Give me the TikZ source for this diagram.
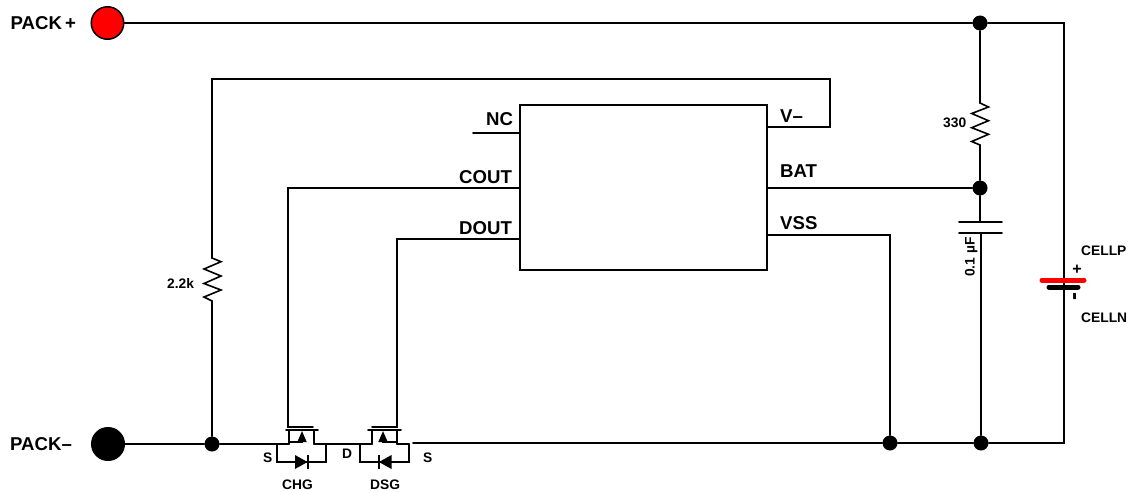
\documentclass[tikz,border=0pt]{standalone}
\usepackage{fontspec}
\setmainfont{Liberation Sans}
\usetikzlibrary{arrows.meta}
\tikzset{
  wire/.style={draw=black,line width=1.6pt,line cap=round,line join=miter},
  dotnode/.style={circle,fill=black,inner sep=0pt,minimum size=15pt},
  big/.style={anchor=base west,inner sep=0pt,font=\fontsize{18.6}{20}\selectfont\bfseries,text=black},
  small/.style={anchor=base west,inner sep=0pt,font=\fontsize{13.8}{16}\selectfont\bfseries,text=black},
  terminal/.style={circle,draw=black,line width=1.5pt,inner sep=0pt,minimum size=32.5pt},
}
\begin{document}
\begin{tikzpicture}[x=1pt,y=-1pt]
\useasboundingbox (0,0) rectangle (1129,492);
% terminals and junctions
\node[terminal,fill=red]   (packp) at (107.5,23) {};
\node[terminal,fill=black] (packn) at (108,444) {};
\node[dotnode] (jtop) at (980,23) {};
\node[dotnode] (jbat) at (980,188) {};
\node[dotnode] (jcap) at (981,443) {};
\node[dotnode] (jvss) at (890,443) {};
\node[dotnode] (jres) at (212,444) {};
% IC
\node[draw=black,line width=1.6pt,minimum width=247pt,minimum height=165pt,inner sep=0pt] (ic) at (643.5,187.5) {};
% labels
\node[big] (lpp) at (10.5,29.5) {PACK\kern3pt+};
\node[big] (lpn) at (10,450) {PACK–};
\node[big] (lnc) at (486,125.5) {NC};
\node[big] (lco) at (459,183) {COUT};
\node[big] (ldo) at (459,234.5) {DOUT};
\node[big] (lvm) at (780,122) {V–};
\node[big] (lbt) at (780,177.5) {BAT};
\node[big] (lvs) at (780,229.5) {VSS};
\node[small] (l330) at (943,128) {330};
\node[small] (l22) at (167,288) {2.2k};
\node[small] (ls1) at (263,462) {S};
\node[small] (ld)  at (342,458) {D};
\node[small] (ls2) at (423,462) {S};
\node[small] (lchg) at (282,489) {CHG};
\node[small] (ldsg) at (370,489) {DSG};
\node[small] (lcp) at (1081,255.5) {CELLP};
\node[small] (lcn) at (1081,322.5) {CELLN};
\node[small,rotate=90] (lcap) at (974.5,277) {0.1 µF};
\node[anchor=center,inner sep=0pt,font=\fontsize{16}{16}\selectfont\bfseries] (lplus) at (1077,270) {+};
\node[anchor=center,inner sep=0pt,rotate=90,font=\fontsize{24}{24}\selectfont\bfseries] (lminus) at (1077,296.5) {-};
% top rail
\coordinate (corner1) at (1064,23);
\coordinate (corner2) at (1064,443);
\coordinate (batT) at (1064,262);
\coordinate (batB) at (1064,304);
\draw[wire] (packp) -- (jtop) -- (corner1) -- (batT);
\draw[wire] (batB) -- (corner2) -- (jcap);
\draw[line width=2.2pt,black] (batT) -- (batB);
% battery plates
\coordinate (rl) at (1042,280); \coordinate (rr) at (1084,280);
\coordinate (bl) at (1049,287); \coordinate (br) at (1078,287);
\draw[line width=5pt,red,line cap=round] (rl) -- (rr);
\draw[line width=5pt,black,line cap=round] (bl) -- (br);
% 330 resistor and cap
\coordinate (r1t) at (980,103);
\coordinate (r1b) at (980,145);
\draw[wire] (jtop) -- (r1t) -- (988.5,107) -- (971.7,113.5) -- (988.5,120.7) -- (971.7,127.7) -- (988.5,134.3) -- (971.7,141.5) -- (r1b) -- (jbat);
\coordinate (c1) at (980,222);
\coordinate (c2) at (981,233);
\coordinate (p1l) at (959,222); \coordinate (p1r) at (1002,222);
\coordinate (p2l) at (959,233); \coordinate (p2r) at (1002,233);
\draw[wire] (jbat) -- (c1);
\draw[wire] (p1l) -- (p1r);
\draw[wire] (p2l) -- (p2r);
\draw[wire] (c2) -- (jcap);
% IC pins
\coordinate (ncend) at (473,133);
\draw[wire] (ncend) -- (ncend -| ic.west);
\coordinate (vm0) at (ic.east |- 0,127);
\coordinate (vm1) at (830,127);
\coordinate (vm2) at (830,79);
\coordinate (vm3) at (212,79);
\coordinate (r2t) at (212,258);
\coordinate (r2b) at (212,301);
\draw[wire] (vm0) -- (vm1) -- (vm2) -- (vm3) -- (r2t) -- (221,261.7) -- (204,269) -- (221,276) -- (204,283.5) -- (221,290) -- (204,297) -- (r2b) -- (jres);
\draw[wire] (ic.east |- jbat) -- (jbat);
\coordinate (vs0) at (ic.east |- 0,235);
\coordinate (vs1) at (890,235);
\draw[wire] (vs0) -- (vs1) -- (jvss);
% bottom rail
\coordinate (s1) at (289,444);
\coordinate (d1) at (314,444);
\coordinate (d2) at (372,444);
\coordinate (s2) at (397,444);
\coordinate (s2end) at (409,444);
\coordinate (s3) at (413,443);
\draw[wire] (packn) -- (jres) -- (s1);
\draw[wire] (d1) -- (d2);
\draw[wire] (s2) -- (s2end);
\draw[wire] (s3) -- (jvss) -- (jcap);
% MOSFET CHG
\coordinate (g1a) at (288,188);
\coordinate (g1b) at (288,427);
\coordinate (g1c) at (313,427);
\coordinate (ch1l) at (286,430); \coordinate (ch1r) at (318,430);
\draw[wire] (ic.west |- g1a) -- (g1a) -- (g1b) -- (g1c);
\draw[wire] (ch1l) -- (ch1r);
\draw[wire] (s1) -- (s1 |- ch1l);
\draw[wire] (d1) -- (d1 |- ch1l);
\coordinate (a1) at (302,442);
\coordinate (a1t) at (302,431);
\coordinate (a1s) at (289,442);
\draw[wire,line cap=butt,-{Triangle[length=11pt,width=9pt]}] (a1s) -- (a1) -- (a1t);
\coordinate (l1a) at (277,444); \coordinate (l1b) at (277,462);
\coordinate (l1c) at (326,462);   \coordinate (l1d) at (326,444);
\draw[wire] (l1a) -- (l1b) -- (l1c) -- (l1d);
\fill[black] (295,455) -- (307.5,462) -- (295,469) -- cycle;
\draw[line width=1.6pt] (308,455) -- (308,469);
% MOSFET DSG
\coordinate (g2a) at (397,239);
\coordinate (g2b) at (397,427);
\coordinate (g2c) at (372,427);
\coordinate (ch2l) at (368,430); \coordinate (ch2r) at (401,430);
\draw[wire] (ic.west |- g2a) -- (g2a) -- (g2b) -- (g2c);
\draw[wire] (ch2l) -- (ch2r);
\draw[wire] (d2) -- (d2 |- ch2l);
\draw[wire] (s2) -- (s2 |- ch2l);
\coordinate (a2) at (383,442);
\coordinate (a2t) at (383,431);
\coordinate (a2s) at (397,442);
\draw[wire,line cap=butt,-{Triangle[length=11pt,width=9pt]}] (a2s) -- (a2) -- (a2t);
\coordinate (l2a) at (360,444); \coordinate (l2b) at (360,462);
\coordinate (l2c) at (409,462); \coordinate (l2d) at (409,444);
\draw[wire] (l2a) -- (l2b) -- (l2c) -- (l2d);
\fill[black] (391.5,455) -- (379,462) -- (391.5,469) -- cycle;
\draw[line width=1.6pt] (379,455) -- (379,469);
\end{tikzpicture}
\end{document}
